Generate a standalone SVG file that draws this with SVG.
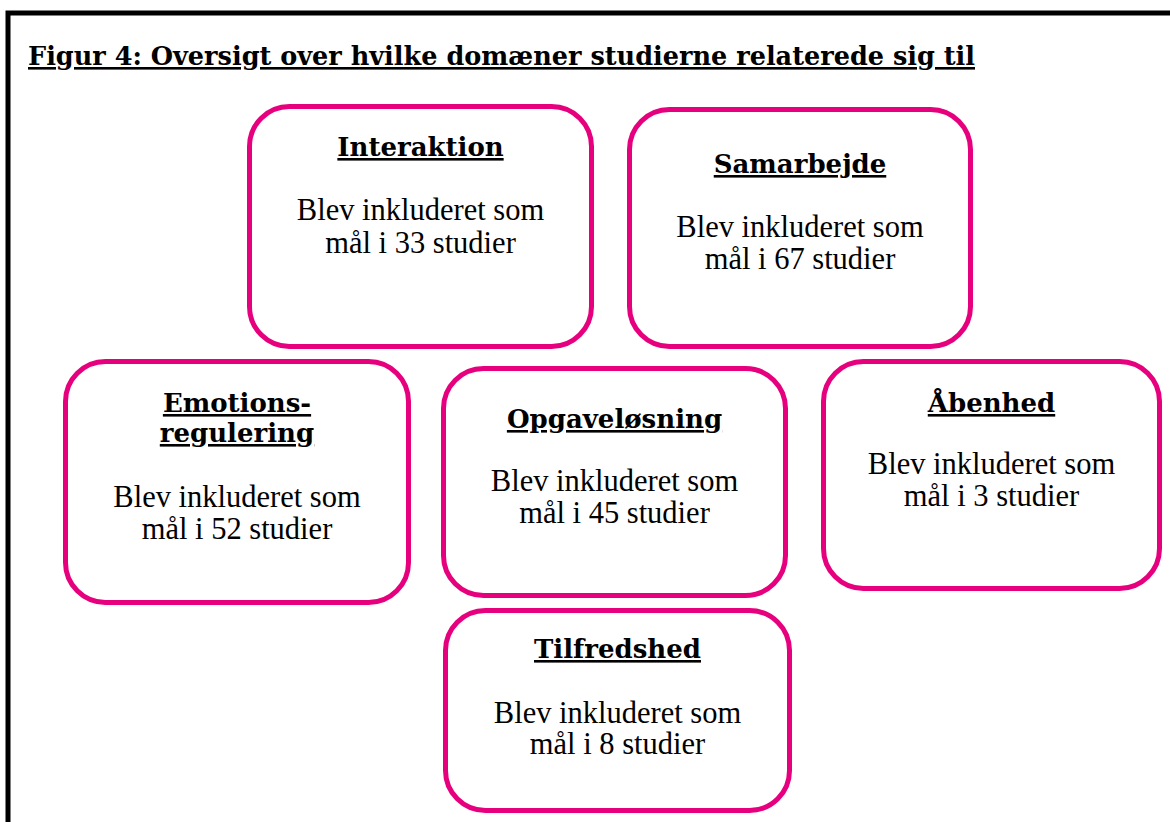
<svg xmlns="http://www.w3.org/2000/svg" width="1170" height="822" viewBox="0 0 1170 822">
<style>
.frame{fill:none;stroke:#000;stroke-width:5}
.box{fill:#fff;stroke:#e6007e;stroke-width:5}
.title{font-family:"DejaVu Serif",serif;font-weight:bold;font-size:26px;text-decoration:underline;fill:#000}
.head{font-family:"DejaVu Serif",serif;font-weight:bold;font-size:26px;text-decoration:underline;fill:#000;text-anchor:middle}
.body{font-family:"Liberation Serif","Times New Roman",serif;font-size:30.5px;fill:#000;text-anchor:middle}
</style>
<rect x="0" y="0" width="1170" height="822" fill="#fff"/>
<rect class="frame" x="8" y="13" width="1200" height="900"/>
<text class="title" x="28" y="65" textLength="947" lengthAdjust="spacingAndGlyphs">Figur 4: Oversigt over hvilke domæner studierne relaterede sig til</text>
<g id="interaktion">
<rect class="box" x="249.5" y="106.5" width="342" height="240" rx="40"/>
<text class="head" x="420.5" y="156">Interaktion</text>
<text class="body" x="420.5" y="220">Blev inkluderet som</text>
<text class="body" x="420.5" y="253">mål i 33 studier</text>
</g>
<g id="samarbejde">
<rect class="box" x="629.5" y="109.5" width="341" height="237" rx="40"/>
<text class="head" x="800" y="173">Samarbejde</text>
<text class="body" x="800" y="237">Blev inkluderet som</text>
<text class="body" x="800" y="269">mål i 67 studier</text>
</g>
<g id="emotionsregulering">
<rect class="box" x="65.5" y="361.5" width="343" height="241" rx="40"/>
<text class="head" x="237" y="412">Emotions-</text>
<text class="head" x="237" y="442">regulering</text>
<text class="body" x="237" y="507">Blev inkluderet som</text>
<text class="body" x="237" y="539">mål i 52 studier</text>
</g>
<g id="opgaveloesning">
<rect class="box" x="443.5" y="368.5" width="342" height="227" rx="40"/>
<text class="head" x="614.5" y="428">Opgaveløsning</text>
<text class="body" x="614.5" y="491">Blev inkluderet som</text>
<text class="body" x="614.5" y="523">mål i 45 studier</text>
</g>
<g id="aabenhed">
<rect class="box" x="823.5" y="361.5" width="336" height="227" rx="40"/>
<text class="head" x="991.5" y="412">Åbenhed</text>
<text class="body" x="991.5" y="474">Blev inkluderet som</text>
<text class="body" x="991.5" y="506">mål i 3 studier</text>
</g>
<g id="tilfredshed">
<rect class="box" x="445.5" y="610.5" width="344" height="200" rx="40"/>
<text class="head" x="617.5" y="658">Tilfredshed</text>
<text class="body" x="617.5" y="723">Blev inkluderet som</text>
<text class="body" x="617.5" y="754">mål i 8 studier</text>
</g>
<g id="connectors"></g>
</svg>
